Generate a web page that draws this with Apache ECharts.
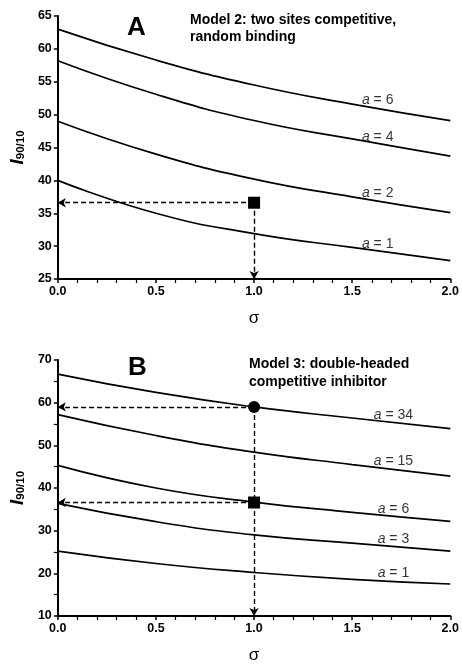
<!DOCTYPE html>
<html><head><meta charset="utf-8">
<script src="https://cdn.jsdelivr.net/npm/echarts@6/dist/echarts.min.js"></script>
<style>html,body{margin:0;padding:0;background:#fff}#c{width:462px;height:665px}</style>
</head><body><div id="c"></div>
<script>
// ---- data ----
const sigma = [0, 0.5, 1.0, 1.5, 2.0];
const A_names = ['6', '4', '2', '1'];
const A_a6 = [63.0, 58.3, 54.5, 51.6, 49.1];
const A_a4 = [58.2, 53.1, 49.1, 46.3, 43.7];
const A_a2 = [49.0, 44.0, 40.2, 37.5, 35.1];
const A_a1 = [40.0, 35.0, 31.9, 29.8, 27.8];
const A_point = [1.0, 36.6];
const A_labelSigma = [1.63, 1.63, 1.63, 1.63];
const A_labelValue = [52.2, 46.6, 38.0, 30.3];

const B_names = ['34', '15', '6', '3', '1'];
const B_a34 = [66.7, 62.4, 59.0, 56.4, 53.9];
const B_a15 = [57.2, 52.3, 48.4, 45.5, 42.8];
const B_a6  = [45.3, 40.0, 36.7, 34.3, 32.2];
const B_a3  = [36.4, 32.1, 29.0, 27.1, 25.2];
const B_a1  = [25.2, 22.3, 20.2, 18.6, 17.5];
const B_square = [1.0, 36.6];
const B_circle = [1.0, 59.0];
const B_labelSigma = [1.71, 1.71, 1.71, 1.71, 1.71];
const B_labelValue = [57.0, 46.3, 35.1, 28.0, 20.1];

const A_yRange = [25, 65, 5];
const B_yRange = [10, 70, 10];
const xRange = [0, 2, 0.5];

// ---- chart ----
const FF = '"Liberation Sans", Arial, sans-serif';
const chart = echarts.init(document.getElementById('c'));
const pairs = (ys) => sigma.map((s, i) => [s, ys[i]]);

function xAxis(gi) {
  return {
    type: 'value', gridIndex: gi, min: xRange[0], max: xRange[1], interval: xRange[2],
    axisLine: {lineStyle: {color: '#000', width: 2}},
    axisTick: {length: 4, lineStyle: {color: '#000', width: 1.5}},
    minorTick: {show: true, splitNumber: 5, length: 4, lineStyle: {color: '#000', width: 1.2}},
    splitLine: {show: false},
    axisLabel: {color: '#000', fontFamily: FF, fontWeight: 'bold', fontSize: 12.5, margin: 6,
      formatter: v => v.toFixed(1)},
    name: 'σ', nameLocation: 'middle', nameGap: 31,
    nameTextStyle: {color: '#000', fontFamily: FF, fontSize: 17}
  };
}
function yAxis(gi, r, minor) {
  return {
    type: 'value', gridIndex: gi, min: r[0], max: r[1], interval: r[2],
    axisLine: {show: true, lineStyle: {color: '#000', width: 2}},
    axisTick: {show: true, length: 4, lineStyle: {color: '#000', width: 1.5}},
    minorTick: {show: minor, splitNumber: 2, length: 4, lineStyle: {color: '#000', width: 1.2}},
    splitLine: {show: false},
    axisLabel: {color: '#000', fontFamily: FF, fontWeight: 'bold', fontSize: 12.5, margin: 6},
    name: '{i|I}{s|90/10}', nameLocation: 'middle', nameRotate: 90, nameGap: 27,
    nameTextStyle: {color: '#000', rich: {
      i: {fontFamily: FF, fontSize: 19, fontWeight: 'bold', fontStyle: 'italic', color: '#000'},
      s: {fontFamily: FF, fontSize: 11.5, fontWeight: 'bold', color: '#000', verticalAlign: 'bottom', padding: [6, 0, 0, 0]}
    }}
  };
}
function curve(gi, ys) {
  return {type: 'line', xAxisIndex: gi, yAxisIndex: gi, data: pairs(ys), symbol: 'none',
    smooth: 0.5, lineStyle: {color: '#000', width: 1.7}, silent: true, z: 3};
}
const dash = {color: '#000', width: 1.4, type: [5, 3]};
function arrowLine(from, to) {
  return [{coord: from, symbol: 'none'}, {coord: to, symbol: 'arrow', symbolSize: [7, 8]}];
}
function guides(gi, lines) {
  return {type: 'line', xAxisIndex: gi, yAxisIndex: gi, data: [], silent: true, z: 4,
    markLine: {silent: true, animation: false, label: {show: false}, lineStyle: dash, data: lines}};
}
function marker(gi, pt, sym) {
  return {type: 'scatter', xAxisIndex: gi, yAxisIndex: gi, data: [pt], symbol: sym, symbolSize: 12,
    itemStyle: {color: '#000', opacity: 1}, z: 8, silent: true};
}
function labels(gi, xs, ys, names) {
  return {type: 'scatter', xAxisIndex: gi, yAxisIndex: gi, symbolSize: 1,
    itemStyle: {color: 'rgba(0,0,0,0)'}, silent: true, z: 5,
    data: xs.map((x, i) => ({value: [x, ys[i]], name: names[i]})),
    label: {show: true, position: 'inside', color: '#000',
      formatter: p => '{i|a}{n| = ' + p.name + '}',
      rich: {i: {fontFamily: FF, fontSize: 14, fontStyle: 'italic', color: '#000'},
             n: {fontFamily: FF, fontSize: 14, color: '#000'}}}
  };
}
const tStyle = (txt, size) => ({text: txt, fill: '#000', font: 'bold ' + size + 'px ' + FF});

chart.setOption({
  animation: false,
  backgroundColor: '#fff',
  grid: [
    {left: 56, top: 16, width: 396, height: 263},
    {left: 57, top: 360, width: 395, height: 263}
  ],
  xAxis: [xAxis(0), xAxis(1)],
  yAxis: [yAxis(0, A_yRange, false), yAxis(1, B_yRange, true)],
  series: [
    curve(0, A_a6), curve(0, A_a4), curve(0, A_a2), curve(0, A_a1),
    curve(1, B_a34), curve(1, B_a15), curve(1, B_a6), curve(1, B_a3), curve(1, B_a1),
    guides(0, [arrowLine(A_point, [xRange[0], A_point[1]]), arrowLine(A_point, [A_point[0], A_yRange[0]])]),
    guides(1, [arrowLine(B_square, [xRange[0], B_square[1]]),
               arrowLine(B_circle, [xRange[0], B_circle[1]]),
               arrowLine(B_circle, [B_circle[0], B_yRange[0]])]),
    marker(0, A_point, 'rect'),
    marker(1, B_square, 'rect'),
    marker(1, B_circle, 'circle'),
    labels(0, A_labelSigma, A_labelValue, A_names),
    labels(1, B_labelSigma, B_labelValue, B_names)
  ],
  graphic: [
    {type: 'text', left: 127, top: 15, style: tStyle('A', 26)},
    {type: 'text', left: 190, top: 13, style: tStyle('Model 2: two sites competitive,', 14)},
    {type: 'text', left: 190, top: 30, style: tStyle('random binding', 14)},
    {type: 'text', left: 128, top: 355, style: tStyle('B', 26)},
    {type: 'text', left: 249, top: 357, style: tStyle('Model 3: double-headed', 14)},
    {type: 'text', left: 249, top: 375, style: tStyle('competitive inhibitor', 14)}
  ]
});
</script></body></html>
